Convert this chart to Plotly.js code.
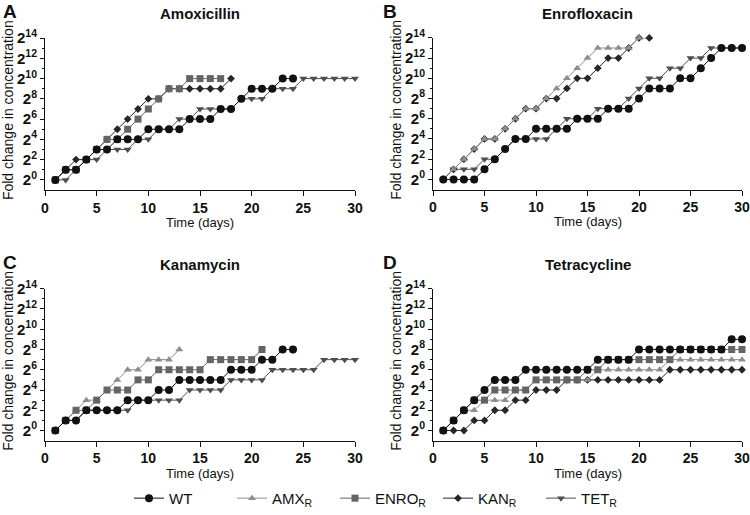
<!DOCTYPE html>
<html>
<head>
<meta charset="utf-8">
<script src="https://cdn.plot.ly/plotly-3.0.1.min.js"></script>
<style>html,body{margin:0;padding:0;background:#fff}</style>
</head>
<body>
<div id="chart" style="width:750px;height:515px"></div>
<script>
// values are log2 fold change (exponent of 2), one per day starting at day 1
var days = [1,2,3,4,5,6,7,8,9,10,11,12,13,14,15,16,17,18,19,20,21,22,23,24,25,26,27,28,29,30];

// A - Amoxicillin
var amoxWT   = [0,1,1,2,3,3,4,4,4,5,5,5,5,6,6,6,7,7,8,9,9,9,10,10];
var amoxENRO = [0,1,1,2,3,4,4,5,6,7,8,9,9,10,10,10,10];
var amoxKAN  = [0,1,2,2,3,4,5,6,7,8,8,9,9,9,9,9,9,10];
var amoxTET  = [0,0,1,2,2,3,3,3,4,4,5,5,6,6,7,7,7,7,8,8,8,9,9,9,10,10,10,10,10,10];

// B - Enrofloxacin
var enroWT  = [0,0,0,0,1,2,3,4,4,5,5,5,5,6,6,6,7,7,7,8,9,9,9,10,10,11,12,13,13,13];
var enroAMX = [0,1,2,3,4,4,5,6,7,7,8,9,10,11,12,13,13,13,13,14];
var enroKAN = [0,1,2,3,4,4,5,6,7,7,8,8,9,10,10,11,12,12,13,14,14];
var enroTET = [0,1,1,1,2,2,3,4,4,4,4,5,6,6,6,7,7,7,8,9,10,10,11,11,12,12,13,13,13,13];

// C - Kanamycin
var kanWT   = [0,1,1,2,2,2,2,3,3,3,4,4,5,5,5,5,5,6,6,6,7,7,8,8];
var kanAMX  = [0,1,2,3,3,4,5,6,6,7,7,7,8];
var kanENRO = [0,1,2,2,3,4,4,4,5,5,6,6,6,6,6,7,7,7,7,7,8];
var kanTET  = [0,1,1,2,2,2,2,2,3,3,3,3,3,4,4,4,4,5,5,5,5,6,6,6,6,6,7,7,7,7];

// D - Tetracycline
var tetWT   = [0,1,2,3,4,5,5,5,6,6,6,6,6,6,6,7,7,7,7,8,8,8,8,8,8,8,8,8,9,9];
var tetAMX  = [0,1,2,2,3,3,3,4,4,5,5,5,5,5,5,6,6,6,6,6,6,6,7,7,7,7,7,7,7,7];
var tetENRO = [0,1,2,3,3,4,4,4,4,5,5,5,5,5,6,6,7,7,7,7,7,7,7,8,8,8,8,8,8,8];
var tetKAN  = [0,0,0,1,1,2,2,3,3,4,4,4,5,5,5,5,5,5,5,5,5,5,6,6,6,6,6,6,6,6];

var panelTitles = ["Amoxicillin", "Enrofloxacin", "Kanamycin", "Tetracycline"];
var panelLetters = ["A", "B", "C", "D"];
var yTickVals = [0,2,4,6,8,10,12,14];
var yTickText = yTickVals.map(function(e){ return "2<sup>" + e + "</sup>"; });

var styles = {
    WT:   {label:"WT",                color:"#111111", symbol:"circle",        size:8, rank:1},
    AMX:  {label:"AMX<sub>R</sub>",   color:"#8e8e8e", symbol:"triangle-up",   size:7, rank:2},
    ENRO: {label:"ENRO<sub>R</sub>",  color:"#646464", symbol:"square",        size:7, rank:3},
    KAN:  {label:"KAN<sub>R</sub>",   color:"#262626", symbol:"diamond",       size:6, rank:4},
    TET:  {label:"TET<sub>R</sub>",   color:"#4e4e4e", symbol:"triangle-down", size:7, rank:5}
};

// draw order per panel: bottom first, WT on top
var panels = [
    {xa:"x",  ya:"y",  series:[["TET",amoxTET],["KAN",amoxKAN],["ENRO",amoxENRO],["WT",amoxWT]]},
    {xa:"x2", ya:"y2", series:[["TET",enroTET],["KAN",enroKAN],["AMX",enroAMX],["WT",enroWT]]},
    {xa:"x3", ya:"y3", series:[["TET",kanTET],["AMX",kanAMX],["ENRO",kanENRO],["WT",kanWT]]},
    {xa:"x4", ya:"y4", series:[["KAN",tetKAN],["AMX",tetAMX],["ENRO",tetENRO],["WT",tetWT]]}
];

var traces = [];
var shown = {};
panels.forEach(function(p) {
    p.series.forEach(function(s) {
        var st = styles[s[0]];
        traces.push({
            type:"scatter",
            mode:"lines+markers",
            x:days.slice(0, s[1].length),
            y:s[1],
            xaxis:p.xa,
            yaxis:p.ya,
            name:st.label,
            legendrank:st.rank,
            showlegend:!shown[s[0]],
            cliponaxis:false,
            line:{color:st.color, width:1},
            marker:{color:st.color, symbol:st.symbol, size:st.size, line:{width:0}}
        });
        shown[s[0]] = true;
    });
});

// pixel boxes of the four plot areas
var xDom = [[45,355],[433,742],[45,355],[433,742]];
var yDom = [[38.7,193],[38.5,192.5],[293.3,447.6],[293.3,447.6]];

var layout = {
    width:750, height:515,
    margin:{l:0, r:0, t:0, b:0},
    paper_bgcolor:"#fff", plot_bgcolor:"#fff",
    font:{family:"Liberation Sans, Arial, sans-serif", color:"#111"},
    showlegend:true,
    legend:{orientation:"h", x:0.172, y:0.017, xanchor:"left", yanchor:"middle",
            font:{size:15, color:"#111"}, entrywidthmode:"pixels", entrywidth:58,
            traceorder:"normal", bgcolor:"rgba(0,0,0,0)"},
    annotations:[]
};

function addPanelAxes(i) {
    var sfx = i == 0 ? "" : String(i+1);
    layout["xaxis"+sfx] = {
        domain:[xDom[i][0]/750, xDom[i][1]/750],
        anchor:"y"+sfx,
        range:[0,30],
        tickmode:"array", tickvals:[0,5,10,15,20,25,30],
        ticks:"outside", ticklen:5, tickwidth:1, tickcolor:"#111",
        showline:true, linecolor:"#111", linewidth:1,
        showgrid:false, zeroline:false, fixedrange:true,
        tickfont:{size:14, weight:"bold", color:"#111"}
    };
    layout["yaxis"+sfx] = {
        domain:[1-yDom[i][1]/515, 1-yDom[i][0]/515],
        anchor:"x"+sfx,
        range:[-1,14],
        tickmode:"array", tickvals:yTickVals, ticktext:yTickText,
        ticks:"outside", ticklen:4, tickwidth:1, tickcolor:"#111",
        minor:{tickmode:"array", tickvals:[1,3,5,7,9,11,13], ticks:"outside", ticklen:2, tickcolor:"#111"},
        showline:true, linecolor:"#111", linewidth:1,
        showgrid:false, zeroline:false, fixedrange:true,
        tickfont:{size:15, weight:"bold", color:"#111"}
    };
    var cx = (xDom[i][0] + xDom[i][1]) / 2;
    var plotTop = yDom[i][0];
    var plotBottom = yDom[i][1];
    // panel title
    layout.annotations.push({text:"<b>"+panelTitles[i]+"</b>", xref:"paper", yref:"paper",
        x:cx/750, y:1-(plotTop-25)/515, xanchor:"center", yanchor:"middle", showarrow:false,
        font:{size:15, color:"#111"}});
    // panel letter
    layout.annotations.push({text:"<b>"+panelLetters[i]+"</b>", xref:"paper", yref:"paper",
        x:(i%2 == 0 ? 1 : 381)/750, y:1-(plotTop-27)/515, xanchor:"left", yanchor:"middle", showarrow:false,
        font:{size:19, color:"#111"}});
    // x axis title
    layout.annotations.push({text:"Time (days)", xref:"paper", yref:"paper",
        x:cx/750, y:1-(plotBottom+33)/515, xanchor:"center", yanchor:"middle", showarrow:false,
        font:{size:13, color:"#111"}});
    // y axis title
    layout.annotations.push({text:"Fold change in concentration", xref:"paper", yref:"paper",
        x:(xDom[i][0]-37)/750, y:1-((plotTop+plotBottom)/2-4)/515, xanchor:"center", yanchor:"middle",
        textangle:-90, showarrow:false, font:{size:14, color:"#111"}});
}
for (var i = 0; i < 4; i++) {
    addPanelAxes(i);
}

var config = {staticPlot:true, displayModeBar:false};
Plotly.newPlot("chart", traces, layout, config);
</script>
</body>
</html>
